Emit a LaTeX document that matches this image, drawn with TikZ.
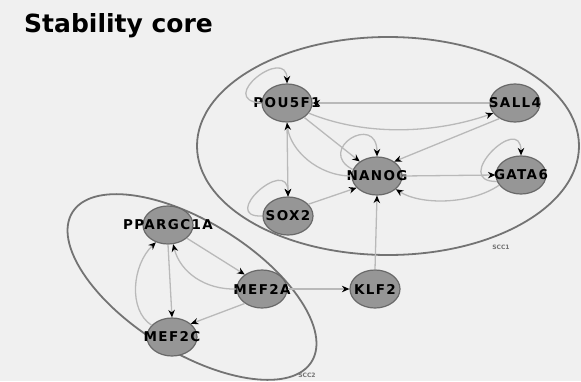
\documentclass[tikz,border=0pt]{standalone}
\usepackage{fontspec}
\usepackage{tikz}
\usetikzlibrary{shapes.geometric,arrows.meta}
\setmainfont{DejaVu Sans}
\newfontfamily\genefont[LetterSpace=10]{DejaVu Sans}
\definecolor{backdrop}{RGB}{240, 240, 240}
\definecolor{genefill}{RGB}{150, 150, 150}
\definecolor{geneline}{RGB}{105, 105, 105}
\definecolor{linkgray}{RGB}{185, 185, 185}
\definecolor{sccline}{RGB}{115, 115, 115}

\begin{document}
\begin{tikzpicture}[x=1pt, y=-1pt,
		gene/.style={ellipse, draw=geneline, line width=1.2pt, fill=genefill, minimum width=50pt, minimum height=38pt, inner sep=0pt},
		genetext/.style={font=\genefont\bfseries\fontsize{13.5}{13.5}\selectfont, inner sep=0pt},
		link/.style={draw=linkgray, line width=1.3pt, -{Stealth[black, length=7.5pt, width=6.5pt]}},
		scc/.style={draw=sccline, line width=1.8pt},
		scctext/.style={font=\bfseries\fontsize{6}{6}\selectfont, text=sccline}]
			\fill [backdrop] (0, 0) rectangle (581, 381);
			\useasboundingbox (0, 0) rectangle (581, 381);
			\node [anchor=base west, font=\bfseries\fontsize{25}{25}\selectfont, inner sep=0pt] (title) at (24, 32) {Stability core};

			\draw [scc] (388, 146) ellipse [x radius=191pt, y radius=109pt];
			\draw [scc, rotate around={-32:(192, 287)}] (192, 287) ellipse [x radius=141pt, y radius=65pt];
			\node [scctext] (scc1) at (501, 247) {SCC1};
			\node [scctext] (scc2) at (307, 375) {SCC2};

			\node [gene] (pou) at (287, 103) {};
			\node [gene] (sall) at (515, 103) {};
			\node [gene] (nanog) at (377, 176) {};
			\node [gene] (gata) at (521, 175) {};
			\node [gene] (sox) at (288, 216) {};
			\node [gene] (klf) at (375, 289) {};
			\node [gene] (ppar) at (168, 225) {};
			\node [gene] (mefa) at (262, 289) {};
			\node [gene] (mefc) at (172, 337) {};

			\node [genetext] (pou-t) at (pou) {POU5F1};
			\node [genetext] (sall-t) at (sall) {SALL4};
			\node [genetext] (nanog-t) at (nanog) {NANOG};
			\node [genetext] (gata-t) at (gata) {GATA6};
			\node [genetext] (sox-t) at (sox) {SOX2};
			\node [genetext] (klf-t) at (klf) {KLF2};
			\node [genetext] (ppar-t) at (ppar) {PPARGC1A};
			\node [genetext] (mefa-t) at (mefa) {MEF2A};
			\node [genetext] (mefc-t) at (mefc) {MEF2C};

			\draw [link] (pou.west) .. controls (215, 100) and (287, 45) .. (pou.north);
			\draw [link] (sall.west) -- (pou.east);
			\draw [link] (pou.-25) .. controls (370, 138) and (440, 132) .. (sall.205);
			\draw [link] (pou.south) -- (sox.north);
			\draw [link] (pou.-40) -- (nanog.140);
			\draw [link] (nanog.west) .. controls (318, 176) and (290, 150) .. (pou.south);
			\draw [link] (nanog.165) .. controls (315, 150) and (377, 112) .. (nanog.north);
			\draw [link] (sall.225) -- (nanog.40);
			\draw [link] (nanog.east) -- (gata.west);
			\draw [link] (gata.195) .. controls (450, 182) and (521, 112) .. (gata.north);
			\draw [link] (gata.205) .. controls (470, 205) and (420, 205) .. (nanog.-35);
			\draw [link] (sox.30) -- (nanog.210);
			\draw [link] (sox.west) .. controls (218, 218) and (288, 155) .. (sox.north);
			\draw [link] (klf.north) -- (nanog.south);
			\draw [link] (mefa.east) -- (klf.west);
			\draw [link] (ppar.-35) -- (mefa.140);
			\draw [link] (mefa.west) .. controls (205, 290) and (180, 272) .. (ppar.-75);
			\draw [link] (ppar.south) -- (mefc.north);
			\draw [link] (mefc.150) .. controls (128, 310) and (132, 265) .. (ppar.235);
			\draw [link] (mefa.220) -- (mefc.35);
		\end{tikzpicture}
\end{document}
